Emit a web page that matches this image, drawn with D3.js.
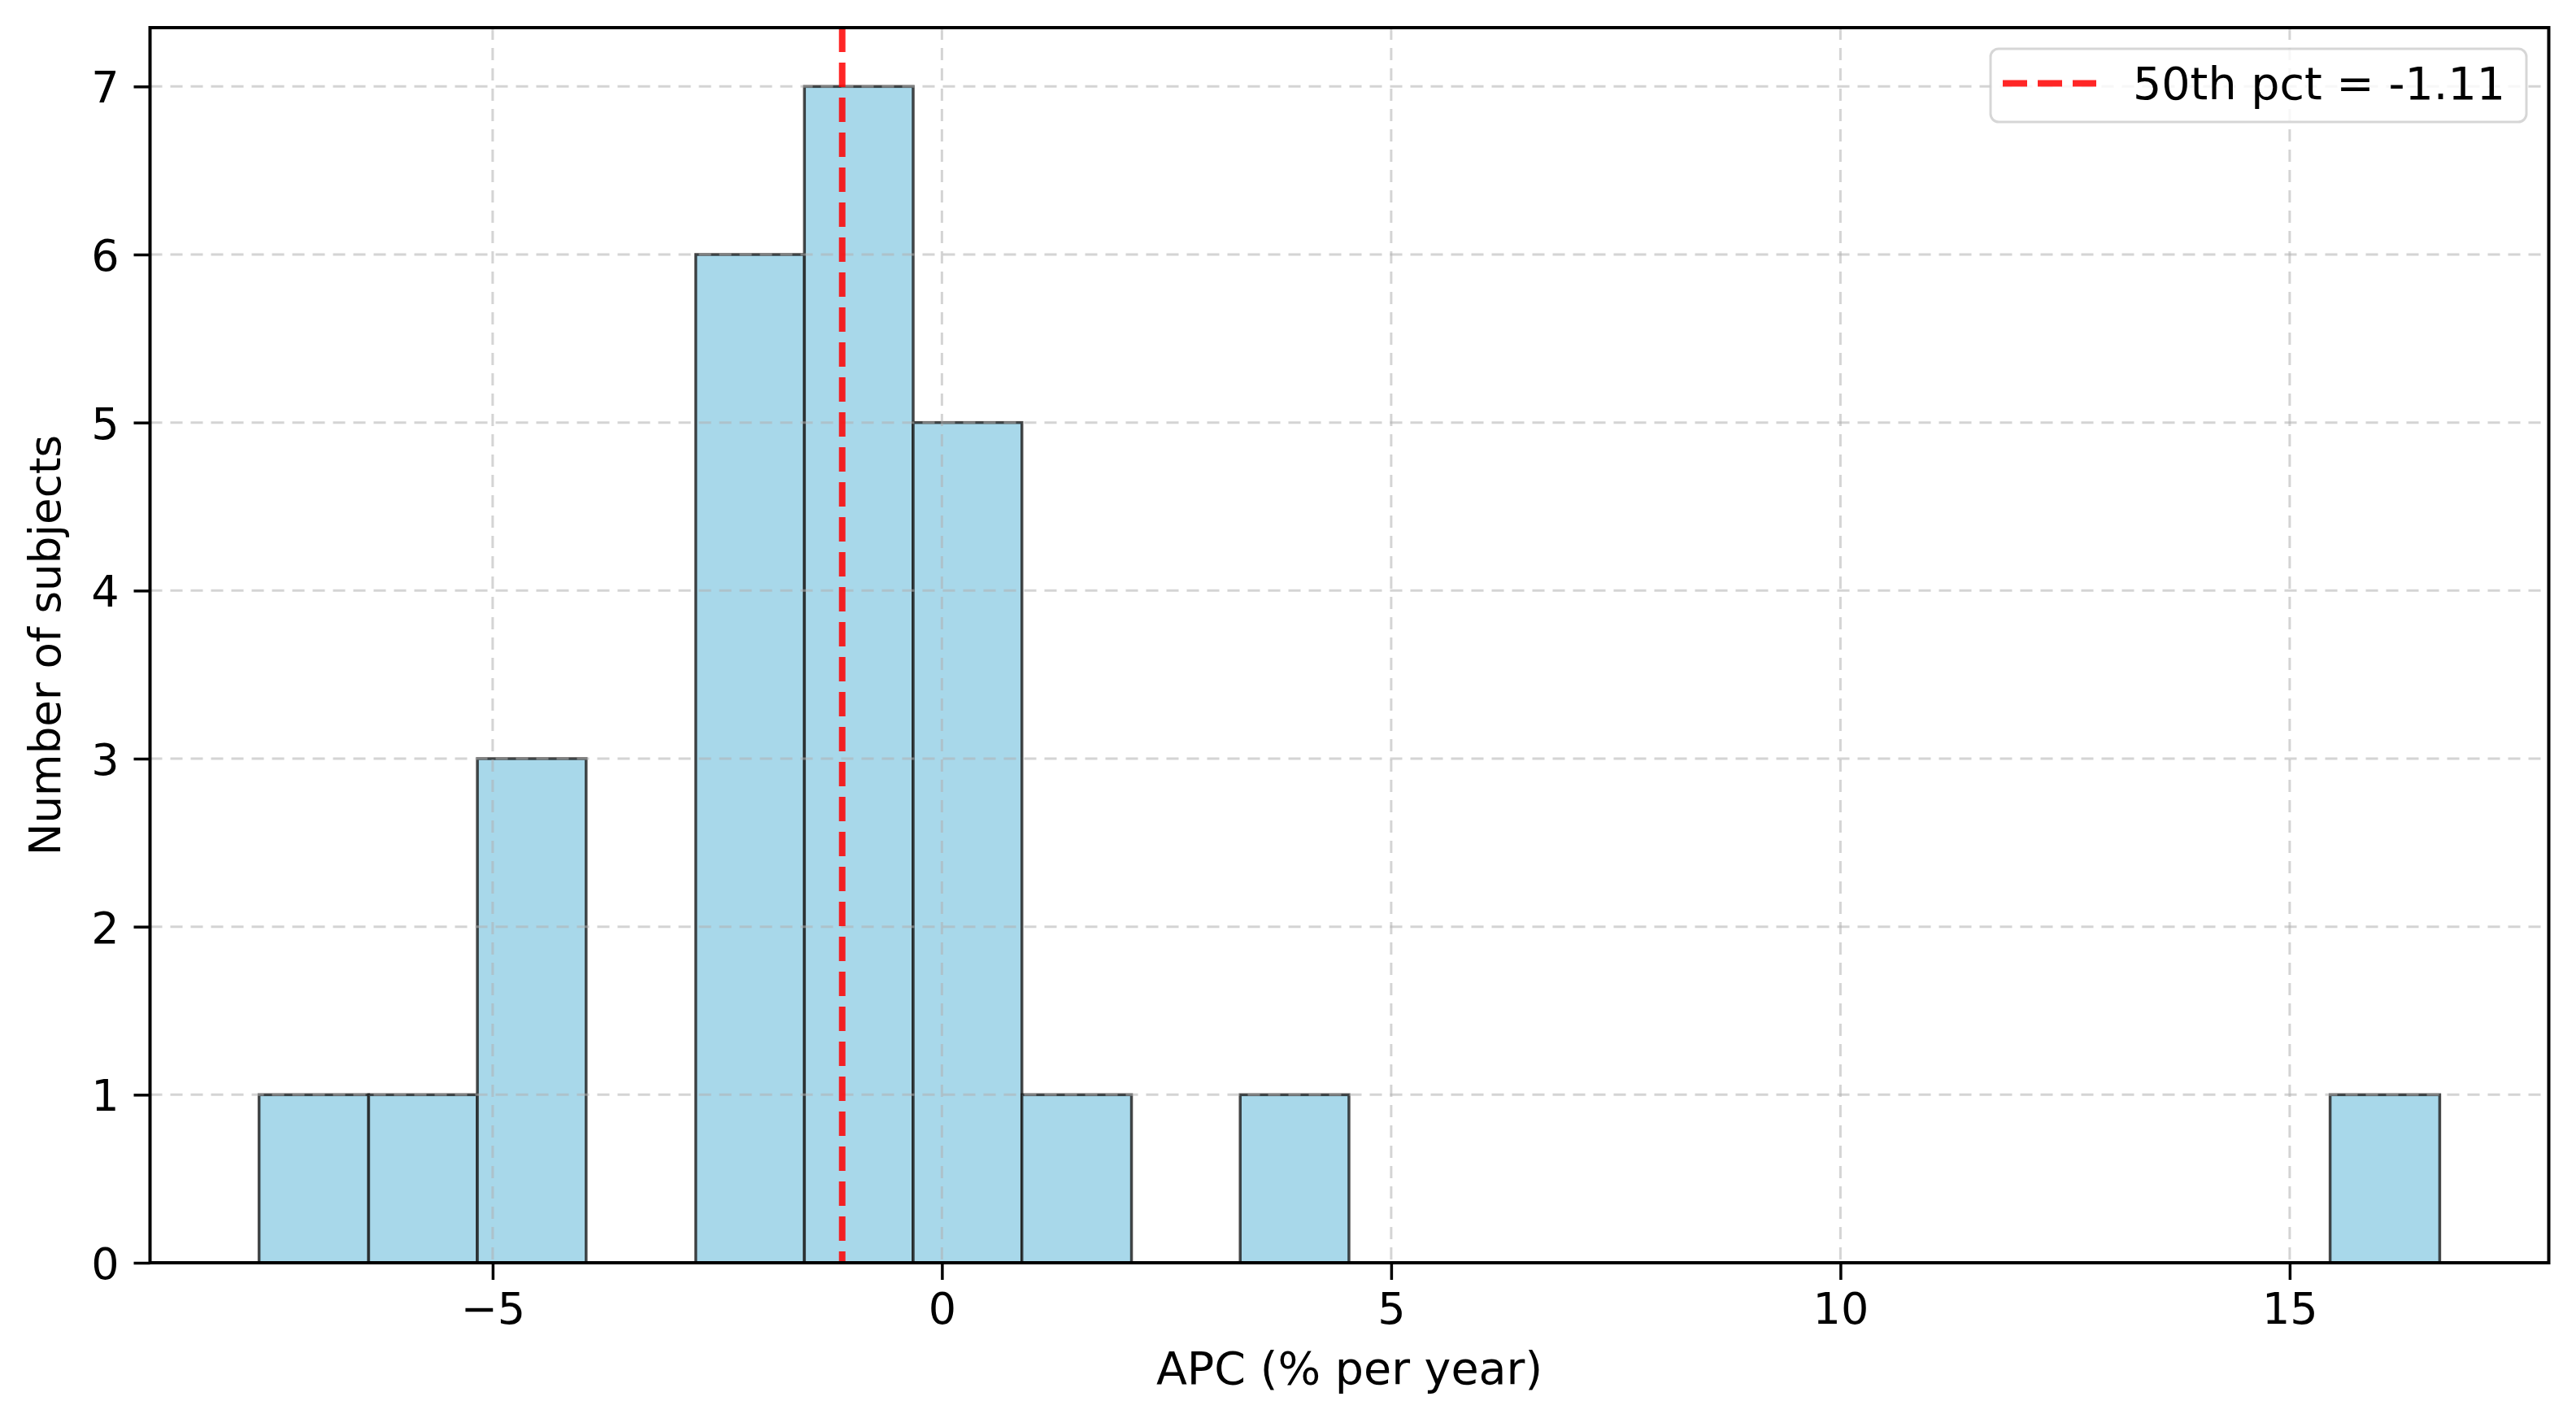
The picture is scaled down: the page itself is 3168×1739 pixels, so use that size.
<!DOCTYPE html>
<html>
<head>
<meta charset="utf-8">
<script src="https://cdn.jsdelivr.net/npm/d3@7"></script>
<style>
  html, body { margin: 0; padding: 0; background: #ffffff; }
  svg { display: block; }
  text { font-family: "DejaVu Sans", sans-serif; fill: #000; }
</style>
</head>
<body>
<svg id="chart" width="3168" height="1739"></svg>
<script>
// ---- data ----
const binEdges = [-7.60, -6.38, -5.17, -3.96, -2.74, -1.53, -0.32, 0.89, 2.11, 3.32,
                  4.53, 5.75, 6.96, 8.17, 9.39, 10.60, 11.81, 13.03, 14.24, 15.45, 16.67];
const binCounts = [1, 1, 3, 0, 6, 7, 5, 1, 0, 1, 0, 0, 0, 0, 0, 0, 0, 0, 0, 1];
const xTicks = [-5, 0, 5, 10, 15];
const yTicks = [0, 1, 2, 3, 4, 5, 6, 7];
const medianValue = -1.11;
const legendLabel = "50th pct = -1.11";
const xLabel = "APC (% per year)";
const yLabel = "Number of subjects";

// ---- layout ----
const W = 3168, H = 1739;
const plot = { left: 184.5, right: 3134.5, top: 34, bottom: 1553 };
const FONT = 54;

const svg = d3.select("#chart");

const lo = binEdges[0], hi = binEdges[binEdges.length - 1];
const pad = (hi - lo) * 0.05;
const x = d3.scaleLinear().domain([lo - pad, hi + pad]).range([plot.left, plot.right]);
const yMax = d3.max(binCounts) * 1.05;
const y = d3.scaleLinear().domain([0, yMax]).range([plot.bottom, plot.top]);

const bins = binCounts.map((c, i) => ({ x0: binEdges[i], x1: binEdges[i + 1], count: c }));

// bars
svg.append("g").selectAll("rect")
  .data(bins.filter(d => d.count > 0))
  .join("rect")
  .attr("x", d => x(d.x0))
  .attr("y", d => y(d.count))
  .attr("width", d => x(d.x1) - x(d.x0))
  .attr("height", d => y(0) - y(d.count))
  .attr("fill", "#a8d8ea")
  .attr("stroke", "#1a1a1a")
  .attr("stroke-opacity", 0.8)
  .attr("stroke-width", 3.5);

// grid (drawn above bars, as in the reference)
const grid = svg.append("g").attr("stroke", "#b0b0b0").attr("stroke-opacity", 0.55)
  .attr("stroke-width", 3).attr("stroke-dasharray", "15,10");
grid.selectAll("line.v").data(xTicks).join("line").attr("class", "v")
  .attr("x1", d => x(d)).attr("x2", d => x(d))
  .attr("y1", plot.top).attr("y2", plot.bottom);
grid.selectAll("line.h").data(yTicks).join("line").attr("class", "h")
  .attr("x1", plot.left).attr("x2", plot.right)
  .attr("y1", d => y(d)).attr("y2", d => y(d));

// median line
svg.append("line")
  .attr("x1", x(medianValue)).attr("x2", x(medianValue))
  .attr("y1", plot.top).attr("y2", plot.bottom)
  .attr("stroke", "#ff0000").attr("stroke-opacity", 0.85)
  .attr("stroke-width", 8).attr("stroke-dasharray", "30,13");

// axes
const fmt = d => (d < 0 ? "\u2212" + Math.abs(d) : String(d));
const xAxis = svg.append("g")
  .attr("transform", `translate(0,${plot.bottom})`)
  .call(d3.axisBottom(x).tickValues(xTicks).tickFormat(fmt).tickSize(21).tickPadding(14));
const yAxis = svg.append("g")
  .attr("transform", `translate(${plot.left},0)`)
  .call(d3.axisLeft(y).tickValues(yTicks).tickFormat(d3.format("d")).tickSize(20).tickPadding(18));
[xAxis, yAxis].forEach(g => {
  g.select(".domain").remove();
  g.selectAll(".tick line").attr("stroke", "#000").attr("stroke-width", 3.5);
  g.selectAll(".tick text").attr("font-size", FONT).attr("font-family", "DejaVu Sans").attr("fill", "#000");
});
xAxis.selectAll(".tick text").attr("dy", null).attr("y", 75);
yAxis.selectAll(".tick text").attr("dy", "0.36em");

// frame
svg.append("rect")
  .attr("x", plot.left).attr("y", plot.top)
  .attr("width", plot.right - plot.left).attr("height", plot.bottom - plot.top)
  .attr("fill", "none").attr("stroke", "#000").attr("stroke-width", 4);

// axis labels
svg.append("text")
  .attr("x", (plot.left + plot.right) / 2).attr("y", 1702)
  .attr("text-anchor", "middle").attr("font-size", 55.5).text(xLabel);
svg.append("text")
  .attr("transform", `translate(74,${(plot.top + plot.bottom) / 2}) rotate(-90)`)
  .attr("text-anchor", "middle").attr("font-size", 53).text(yLabel);

// legend
const lg = svg.append("g");
lg.append("rect")
  .attr("x", 2448).attr("y", 60).attr("width", 659).attr("height", 90).attr("rx", 10)
  .attr("fill", "#ffffff").attr("fill-opacity", 0.8)
  .attr("stroke", "#cccccc").attr("stroke-opacity", 0.8).attr("stroke-width", 3);
lg.append("line")
  .attr("x1", 2463).attr("x2", 2578).attr("y1", 102.5).attr("y2", 102.5)
  .attr("stroke", "#ff0000").attr("stroke-opacity", 0.85)
  .attr("stroke-width", 8).attr("stroke-dasharray", "30,13");
lg.append("text")
  .attr("x", 2623).attr("y", 122).attr("font-size", 55.5).text(legendLabel);
</script>
</body>
</html>
